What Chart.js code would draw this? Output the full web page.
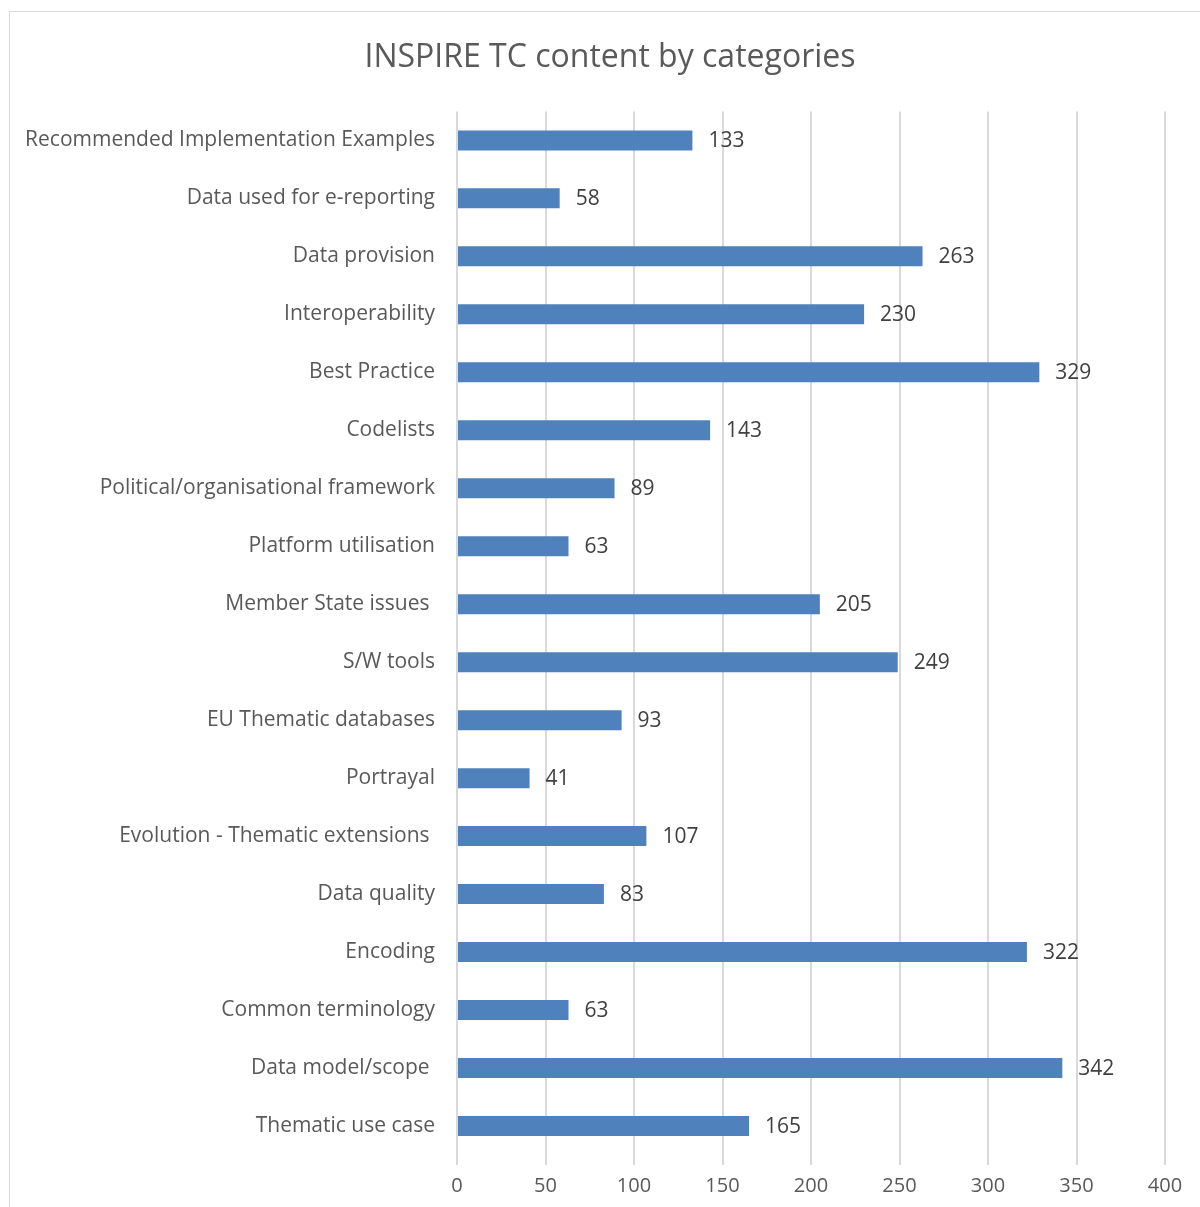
<!DOCTYPE html>
<html>
<head>
<meta charset="utf-8">
<script src="https://cdn.jsdelivr.net/npm/chart.js@4.4.0/dist/chart.umd.min.js"></script>
<style>
    html, body { margin: 0; padding: 0; background: #fff; overflow: hidden; }
    #frame { position: absolute; left: 9px; top: 11px; width: 1250px; height: 1250px; border: 1.5px solid #d9d9d9; }
    #wrap { position: absolute; left: 0; top: 0; width: 1220px; height: 1207px; }
</style>
</head>
<body>
<div id="frame"></div>
<div id="wrap"><canvas id="tc-chart"></canvas></div>
<script>
const categories = [
    'Recommended Implementation Examples',
    'Data used for e-reporting',
    'Data provision',
    'Interoperability',
    'Best Practice',
    'Codelists',
    'Political/organisational framework',
    'Platform utilisation',
    'Member State issues ',
    'S/W tools',
    'EU Thematic databases',
    'Portrayal',
    'Evolution - Thematic extensions ',
    'Data quality',
    'Encoding',
    'Common terminology',
    'Data model/scope ',
    'Thematic use case'
];
const counts = [133, 58, 263, 230, 329, 143, 89, 63, 205, 249, 93, 41, 107, 83, 322, 63, 342, 165];
const xTicks = [0, 50, 100, 150, 200, 250, 300, 350, 400];

const fontFamily = '"Open Sans", sans-serif';

// value labels at the end of each bar, title centred on the whole frame
const barValues = {
    id: 'barValues',
    afterLayout(chart) {
        if (chart.titleBlock) {
            chart.titleBlock.left = 0;
            chart.titleBlock.right = chart.width;
            chart.titleBlock.width = chart.width;
        }
    },
    afterDatasetsDraw(chart) {
        const ctx = chart.ctx;
        const meta = chart.getDatasetMeta(0);
        ctx.save();
        ctx.font = '21px ' + fontFamily;
        ctx.fillStyle = '#404040';
        ctx.textAlign = 'left';
        ctx.textBaseline = 'middle';
        meta.data.forEach((bar, i) => {
            ctx.fillText(String(counts[i]), bar.x + 16, bar.y + 1);
        });
        ctx.restore();
    }
};

const ctx = document.getElementById('tc-chart').getContext('2d');
const tcChart = new Chart(ctx, {
    type: 'bar',
    data: {
        labels: categories,
        datasets: [{
            data: counts,
            backgroundColor: '#4f81bd',
            borderWidth: 0,
            categoryPercentage: 1,
            barPercentage: 0.345
        }]
    },
    options: {
        indexAxis: 'y',
        responsive: true,
        maintainAspectRatio: false,
        animation: false,
        layout: {
            padding: { left: 0, right: 55, top: 0, bottom: 0 }
        },
        plugins: {
            legend: { display: false },
            tooltip: { enabled: false },
            title: {
                display: true,
                text: 'INSPIRE TC content by categories',
                color: '#595959',
                font: { family: fontFamily, size: 32, weight: 'normal' },
                padding: { top: 39, bottom: 34 }
            }
        },
        scales: {
            x: {
                min: 0,
                max: 400,
                afterBuildTicks: (scale) => {
                    scale.ticks = xTicks.map(v => ({ value: v }));
                },
                afterFit: (scale) => { scale.height = 52; },
                border: { display: false },
                grid: {
                    color: '#d9d9d9',
                    lineWidth: 2,
                    drawTicks: true,
                    tickLength: 10,
                    tickColor: '#d9d9d9'
                },
                ticks: {
                    color: '#595959',
                    padding: 9,
                    font: { family: fontFamily, size: 20 }
                }
            },
            y: {
                afterFit: (scale) => { scale.width = 457; },
                border: { display: false },
                grid: { display: false, drawTicks: false },
                ticks: {
                    color: '#595959',
                    padding: 22,
                    autoSkip: false,
                    font: { family: fontFamily, size: 21 }
                }
            }
        }
    },
    plugins: [barValues]
});
</script>
</body>
</html>
